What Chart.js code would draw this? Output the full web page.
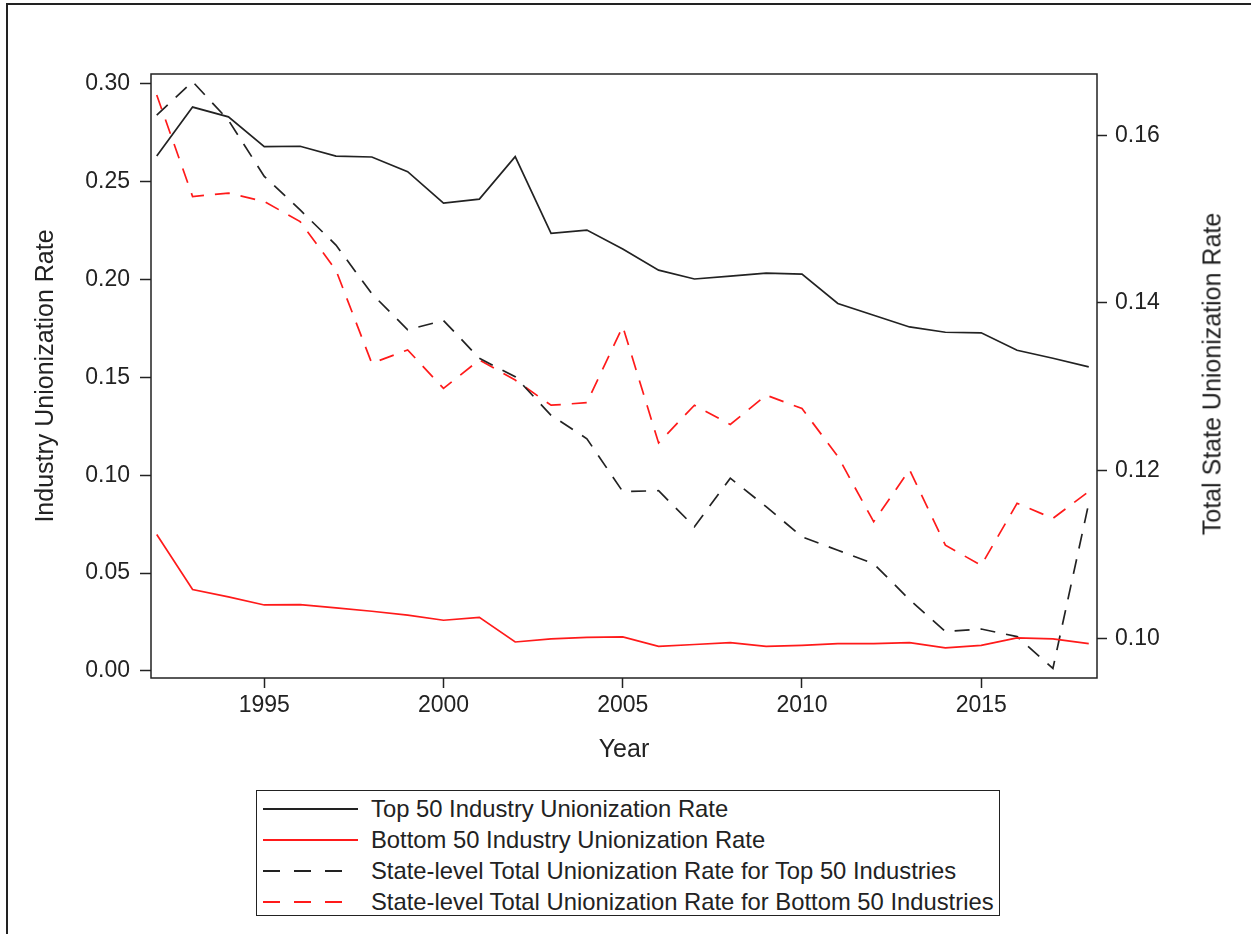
<!DOCTYPE html>
<html>
<head>
<meta charset="utf-8">
<script src="https://cdn.jsdelivr.net/npm/chart.js@4.4.1/dist/chart.umd.min.js"></script>
<style>
  body { margin: 0; background: #fff; font-family: "Liberation Sans", Arial, sans-serif; color: #222; }
  #page { position: relative; width: 1251px; height: 934px; overflow: hidden; }
  #frame { position: absolute; left: 6px; top: 3px; width: 1400px; height: 1100px; border-left: 2px solid #222; border-top: 2px solid #222; }
  #chartBox { position: absolute; left: 0; top: 0; }
  #rightTitle { position: absolute; left: 1212px; top: 374px; transform: translate(-50%, -50%) rotate(-90deg); white-space: nowrap; font-size: 25px; }
  #legend { position: absolute; left: 256px; top: 790px; width: 744px; height: 126px; border: 1.5px solid #222; box-sizing: border-box; padding-top: 2px; }
  .row { display: flex; align-items: center; height: 31px; font-size: 23.8px; white-space: nowrap; }
  .row svg { margin-left: 6px; margin-right: 13px; }
</style>
</head>
<body>
<div id="page">
  <div id="frame"></div>
  <div id="chartBox"><canvas id="myChart" width="1251" height="780"></canvas></div>
  <div id="rightTitle">Total State Unionization Rate</div>
  <div id="legend"></div>
</div>
<script>
const years = [1992, 1993, 1994, 1995, 1996, 1997, 1998, 1999, 2000, 2001, 2002, 2003, 2004, 2005,
    2006, 2007, 2008, 2009, 2010, 2011, 2012, 2013, 2014, 2015, 2016, 2017, 2018];

// left axis
const top50 = [0.263, 0.288, 0.283, 0.2678, 0.268, 0.263, 0.2625, 0.255, 0.239, 0.241, 0.2627, 0.2235, 0.2252, 0.2155,
    0.2047, 0.2002, 0.2017, 0.2032, 0.2027, 0.1877, 0.1817, 0.1757, 0.1730, 0.1727, 0.1638, 0.1597, 0.1553];
const bottom50 = [0.0697, 0.0416, 0.0378, 0.0337, 0.0339, 0.0322, 0.0305, 0.0285, 0.0259, 0.0274, 0.0148, 0.0164, 0.0172, 0.0174,
    0.0126, 0.0135, 0.0145, 0.0126, 0.0131, 0.0140, 0.0140, 0.0145, 0.0118, 0.0131, 0.0169, 0.0164, 0.0140];

// right axis
const stateTop50 = [0.1624, 0.1664, 0.1618, 0.1551, 0.1511, 0.1469, 0.1411, 0.1368, 0.1379, 0.1334, 0.1312, 0.1266, 0.1238, 0.1175,
    0.1176, 0.1133, 0.1191, 0.1157, 0.1121, 0.1105, 0.1089, 0.1046, 0.1008, 0.1011, 0.1002, 0.0964, 0.1161];
const stateBottom50 = [0.1648, 0.1527, 0.1531, 0.1521, 0.1497, 0.1439, 0.1328, 0.1344, 0.1298, 0.1332, 0.1308, 0.1278, 0.1281, 0.1372,
    0.1233, 0.1278, 0.1255, 0.1290, 0.1274, 0.1217, 0.1139, 0.1201, 0.1111, 0.1087, 0.1161, 0.1143, 0.1175];

const xTicks = [1995, 2000, 2005, 2010, 2015];
const leftTicks = [0, 0.05, 0.10, 0.15, 0.20, 0.25, 0.30];
const rightTicks = [0.10, 0.12, 0.14, 0.16];

const labels = [
    'Top 50 Industry Unionization Rate',
    'Bottom 50 Industry Unionization Rate',
    'State-level Total Unionization Rate for Top 50 Industries',
    'State-level Total Unionization Rate for Bottom 50 Industries'
];

const BLACK = '#222';
const RED = '#ff1a1a';
const DASH = [15, 11];
const FONT = '"Liberation Sans", Arial, sans-serif';

function pts(vals) {
    return years.map((y, i) => ({ x: y, y: vals[i] }));
}

const series = [
    { label: labels[0], data: pts(top50), color: BLACK, dash: [], axis: 'y' },
    { label: labels[1], data: pts(bottom50), color: RED, dash: [], axis: 'y' },
    { label: labels[2], data: pts(stateTop50), color: BLACK, dash: DASH, axis: 'y2' },
    { label: labels[3], data: pts(stateBottom50), color: RED, dash: DASH, axis: 'y2' }
];

// box round the plot area
const plotFrame = {
    id: 'plotFrame',
    afterDatasetsDraw(chart) {
        const { ctx, chartArea: a } = chart;
        ctx.save();
        ctx.strokeStyle = BLACK;
        ctx.lineWidth = 1.5;
        ctx.strokeRect(a.left, a.top, a.right - a.left, a.bottom - a.top);
        ctx.restore();
    }
};

function tickGrid(len) {
    return { display: true, drawOnChartArea: false, drawTicks: true, tickLength: len, tickColor: BLACK, tickWidth: 1.5 };
}

const ctx = document.getElementById('myChart');
new Chart(ctx, {
    type: 'line',
    data: {
        datasets: series.map(s => ({
            label: s.label,
            data: s.data,
            yAxisID: s.axis,
            borderColor: s.color,
            borderDash: s.dash,
            borderWidth: 1.7,
            pointRadius: 0,
            tension: 0,
            fill: false
        }))
    },
    options: {
        responsive: false,
        animation: false,
        layout: { padding: { left: 0, right: 0, top: 74, bottom: 0 } },
        plugins: { legend: { display: false }, tooltip: { enabled: false } },
        scales: {
            x: {
                type: 'linear',
                min: 1991.84,
                max: 2018.23,
                grid: tickGrid(10),
                border: { display: false },
                afterBuildTicks: (scale) => { scale.ticks = xTicks.map(v => ({ value: v })); },
                afterFit: (scale) => { scale.height = 102; },
                ticks: { color: BLACK, padding: 4, font: { family: FONT, size: 23 }, callback: v => String(v) },
                title: { display: true, text: 'Year', color: BLACK, font: { family: FONT, size: 25 }, padding: { top: 0, bottom: 15 } }
            },
            y: {
                position: 'left',
                min: -0.0036,
                max: 0.3049,
                grid: tickGrid(11),
                border: { display: false },
                afterBuildTicks: (scale) => { scale.ticks = leftTicks.map(v => ({ value: v })); },
                afterFit: (scale) => { scale.width = 151; },
                ticks: { color: BLACK, padding: 10, font: { family: FONT, size: 23 }, callback: v => v.toFixed(2) },
                title: { display: true, text: 'Industry Unionization Rate', color: BLACK, font: { family: FONT, size: 25 }, padding: { top: 31, bottom: 0 } }
            },
            y2: {
                position: 'right',
                min: 0.09526,
                max: 0.16731,
                grid: tickGrid(10),
                border: { display: false },
                afterBuildTicks: (scale) => { scale.ticks = rightTicks.map(v => ({ value: v })); },
                afterFit: (scale) => { scale.width = 154; },
                ticks: { color: BLACK, padding: 8, font: { family: FONT, size: 23 }, callback: v => v.toFixed(2) },
                title: { display: false }
            }
        }
    },
    plugins: [plotFrame]
});

// legend below the chart
const legend = document.getElementById('legend');
series.forEach(s => {
    const row = document.createElement('div');
    row.className = 'row';
    const dashed = s.dash.length > 0;
    const len = dashed ? 80 : 95;
    const dash = dashed ? 'stroke-dasharray="17 14"' : '';
    row.innerHTML = `<svg width="95" height="6"><line x1="0" y1="3" x2="${len}" y2="3" stroke="${s.color}" stroke-width="1.8" ${dash}/></svg><span>${s.label}</span>`;
    legend.appendChild(row);
});
</script>
</body>
</html>
